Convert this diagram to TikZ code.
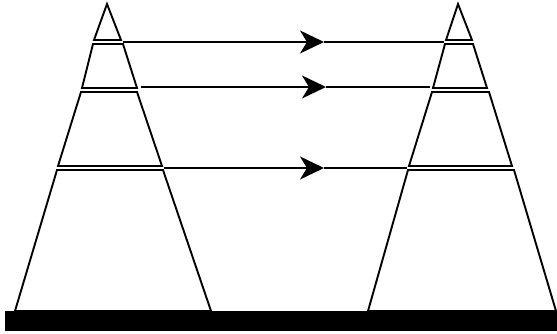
\documentclass[tikz,border=0pt]{standalone}
\usetikzlibrary{arrows.meta}
\begin{document}
\begin{tikzpicture}[x=1pt,y=-1pt,
  part/.style={draw=black,line width=1.9pt,line join=miter},
  flow/.style={draw=black,line width=1.7pt},
  head/.style={-{Stealth[length=24pt,width=23pt,inset=7pt]}}]
\useasboundingbox (0,0) rectangle (557,334);
% left pyramid
\draw[part] (107,4) -- (121,40) -- (94,40) -- cycle;
\draw[part] (93,44) -- (123,44) -- (137,88) -- (82,88) -- cycle;
\draw[part] (81,92) -- (137,92) -- (162,166) -- (58,166) -- cycle;
\draw[part] (57,170) -- (163,170) -- (211,311) -- (15,311) -- cycle;
% right pyramid
\draw[part] (458,4) -- (472,40) -- (446,40) -- cycle;
\draw[part] (445,44) -- (473,44) -- (487,88) -- (433,88) -- cycle;
\draw[part] (432,92) -- (489,92) -- (512,166) -- (409,166) -- cycle;
\draw[part] (408,170) -- (514,170) -- (556,311) -- (368,311) -- cycle;
% connectors
\coordinate (a1) at (123,42); \coordinate (m1) at (324,42); \coordinate (b1) at (444,42);
\coordinate (a2) at (141,87); \coordinate (m2) at (326,87); \coordinate (b2) at (430,87);
\coordinate (a3) at (164,168); \coordinate (m3) at (324,168); \coordinate (b3) at (407,168);
\draw[flow,head] (a1) -- (m1); \draw[flow] (m1) -- (b1);
\draw[flow,head] (a2) -- (m2); \draw[flow] (m2) -- (b2);
\draw[flow,head] (a3) -- (m3); \draw[flow] (m3) -- (b3);
% bottom bar
\fill[black] (5,311) rectangle (557,331);
\end{tikzpicture}
\end{document}
